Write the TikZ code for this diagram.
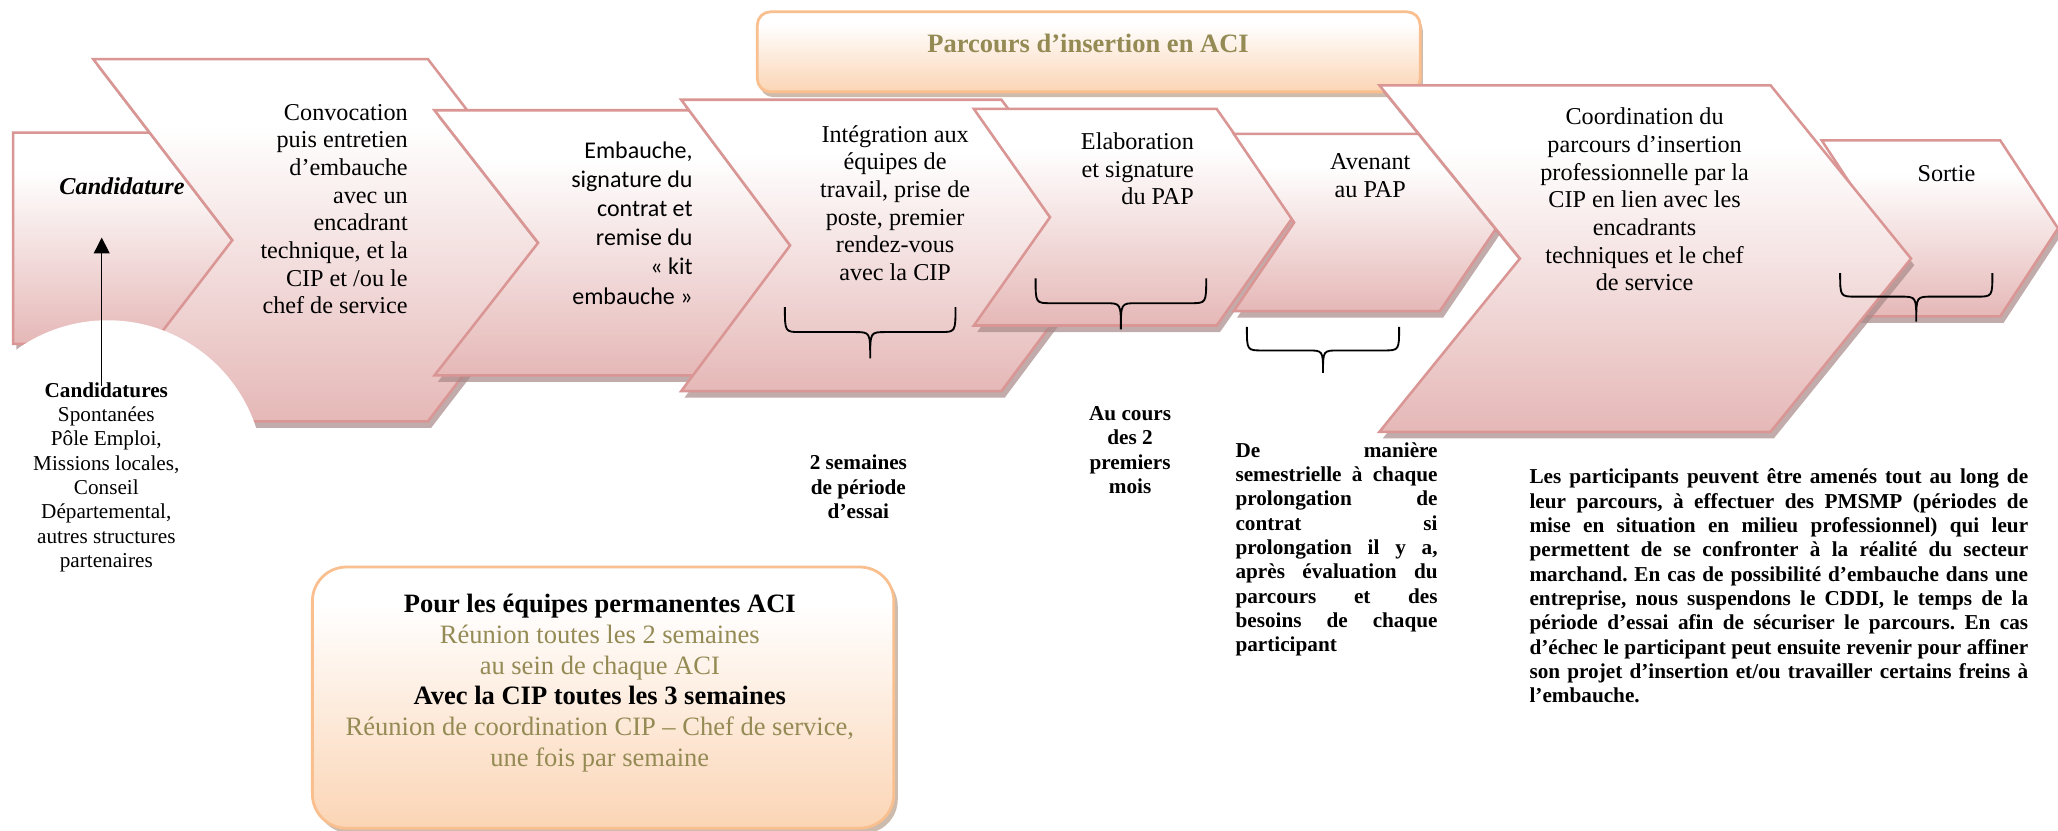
\documentclass[tikz,border=0pt]{standalone}
\usepackage{fontspec}
\setmainfont{Liberation Serif}
\newfontfamily\calibrifont{Carlito}
\usetikzlibrary{arrows.meta}
\frenchspacing

\definecolor{chevbot}{RGB}{229,184,183}
\definecolor{chevline}{RGB}{218,150,148}
\definecolor{chevshadow}{RGB}{168,136,136}
\definecolor{peachbot}{RGB}{251,213,181}
\definecolor{peachline}{RGB}{249,191,143}
\definecolor{peachshadow}{RGB}{185,160,140}
\definecolor{olivetext}{RGB}{148,138,84}

\pgfdeclareverticalshading{chevfade}{100bp}{%
  color(0bp)=(chevbot); color(25bp)=(chevbot); color(66bp)=(white); color(100bp)=(white)}
\pgfdeclareverticalshading{peachfade}{100bp}{%
  color(0bp)=(peachbot); color(25bp)=(peachbot); color(68bp)=(white); color(100bp)=(white)}

% chevron with notched left side: left x, top y, right x, bottom y, point depth
\newcommand\drawchev[5]{%
  \fill[chevshade,shift={(2.5,5)}] (#1,#2) -- (#3,#2) -- ({#3+#5},{(#2+#4)/2}) -- (#3,#4) -- (#1,#4) -- ({#1+#5},{(#2+#4)/2}) -- cycle;
  \path[chevbody] (#1,#2) -- (#3,#2) -- ({#3+#5},{(#2+#4)/2}) -- (#3,#4) -- (#1,#4) -- ({#1+#5},{(#2+#4)/2}) -- cycle;
}

% downward curly brace: left x, right x, top y, bar y, tip y
\newcommand\downbrace[5]{%
  \draw[bracestyle] (#1,#3) .. controls (#1,#4) .. ({#1+12},#4) -- ({(#1+#2)/2-12},#4)
    .. controls ({(#1+#2)/2},#4) .. ({(#1+#2)/2},#5)
    .. controls ({(#1+#2)/2},#4) .. ({(#1+#2)/2+12},#4) -- ({#2-12},#4)
    .. controls (#2,#4) .. (#2,#3);
}

\begin{document}
\begin{tikzpicture}[x=0.02cm,y=-0.02cm,
  chevbody/.style={shade, shading=chevfade, draw=chevline, line width=1.1pt, line join=miter},
  chevshade/.style={fill=chevshadow, opacity=0.7},
  peachbody/.style={shade, shading=peachfade, draw=peachline, line width=1.2pt},
  peachshade/.style={fill=peachshadow, opacity=0.7},
  bracestyle/.style={draw=black, line width=0.8pt},
  shapetext/.style={inner sep=0pt, font=\fontsize{10.5}{12}\selectfont},
  sanstext/.style={inner sep=0pt, font=\calibrifont\fontsize{10.4}{12.6}\selectfont},
  smalltext/.style={inner sep=0pt, font=\fontsize{9.2}{10.55}\selectfont},
  boldtext/.style={inner sep=0pt, font=\fontsize{9.2}{10.55}\selectfont\bfseries},
  boxtext/.style={inner sep=0pt, font=\fontsize{11.5}{13.3}\selectfont},
  titletext/.style={inner sep=0pt, text=olivetext, font=\fontsize{11.5}{13}\selectfont\bfseries}
]
\useasboundingbox (0,0) rectangle (1568,633);
\fill[white] (0,0) rectangle (1568,633);

% title banner
\fill[peachshade,shift={(2,4)},rounded corners=0.2cm] (577,9) rectangle (1082,70);
\path[peachbody,rounded corners=0.2cm] (577,9) rectangle (1082,70);

% process steps
\fill[chevshade,shift={(2.5,5)}] (10,101) -- (150,101) -- (213,181.5) -- (150,262) -- (10,262) -- cycle;
\path[chevbody] (10,101) -- (150,101) -- (213,181.5) -- (150,262) -- (10,262) -- cycle;
\drawchev{71}{45}{326}{321}{106}
\fill[white] (82,363) circle[radius=119];
\drawchev{331}{84}{540}{286}{79}
\drawchev{519}{76}{763}{298}{83}
\drawchev{742}{83}{927}{248}{58}
\drawchev{940}{102}{1097}{237}{46}
\drawchev{1388}{107}{1524}{241}{44}
\drawchev{1051}{65}{1349}{329}{107}

\node[titletext] (title) at (829,33) {Parcours d’insertion en ACI};

% step labels
\node[shapetext, font=\fontsize{10.5}{12}\selectfont\bfseries\itshape] (cand) at (93,142) {Candidature};
\node[shapetext, align=right, anchor=east] (convoc) at (311,159.4)
  {Convocation\\puis entretien\\d’embauche\\avec un\\encadrant\\technique, et la\\CIP et /ou le\\chef de service};
\node[sanstext, align=right, anchor=east] (embauche) at (528,170)
  {Embauche,\\signature du\\contrat et\\remise du\\« kit\\embauche »};
\node[shapetext, align=center] (integ) at (682,154.7)
  {Intégration aux\\équipes de\\travail, prise de\\poste, premier\\rendez-vous\\avec la CIP};
\node[shapetext, align=right, anchor=east] (elab) at (910,128.7)
  {Elaboration\\et signature\\du PAP};
\node[shapetext, align=center] (avenant) at (1044,133.7) {Avenant\\au PAP};
\node[shapetext, align=center] (coord) at (1253,152.1)
  {Coordination du\\parcours d’insertion\\professionnelle par la\\CIP en lien avec les\\encadrants\\techniques et le chef\\de service};
\node[shapetext] (sortie) at (1483,132) {Sortie};

% braces
\downbrace{598}{728}{234}{253}{273}
\downbrace{789}{919}{212}{231}{251}
\downbrace{950}{1066}{249}{267}{284}
\downbrace{1402}{1518}{208}{226}{245}

% application sources
\node[smalltext, align=center] (sources) at (81,363.6)
  {\textbf{Candidatures}\\Spontanées\\Pôle Emploi,\\Missions locales,\\Conseil\\Départemental,\\autres structures\\partenaires};
\coordinate (arrfoot) at (77.5,294);
\coordinate (arrtip) at (77.5,181);
\draw[line width=0.6pt, -{Triangle[length=0.24cm,width=0.24cm]}] (arrfoot) -- (arrtip);

% timing notes
\node[boldtext, align=center] (essai) at (654,371) {2 semaines\\de période\\d’essai};
\node[boldtext, align=center] (mois) at (861,343) {Au cours\\des 2\\premiers\\mois};
\node[boldtext, align=left, anchor=west] (semestre) at (941,418.5)
  {\makebox[3.08cm][s]{De manière}\\
   \makebox[3.08cm][s]{semestrielle à chaque}\\
   \makebox[3.08cm][s]{prolongation de}\\
   \makebox[3.08cm][s]{contrat si}\\
   \makebox[3.08cm][s]{prolongation il y a,}\\
   \makebox[3.08cm][s]{après évaluation du}\\
   \makebox[3.08cm][s]{parcours et des}\\
   \makebox[3.08cm][s]{besoins de chaque}\\
   participant};
\node[boldtext, align=left, anchor=west] (pmsmp) at (1165,446.5)
  {\makebox[7.6cm][s]{Les participants peuvent être amenés tout au long de}\\
   \makebox[7.6cm][s]{leur parcours, à effectuer des PMSMP (périodes de}\\
   \makebox[7.6cm][s]{mise en situation en milieu professionnel) qui leur}\\
   \makebox[7.6cm][s]{permettent de se confronter à la réalité du secteur}\\
   \makebox[7.6cm][s]{marchand. En cas de possibilité d’embauche dans une}\\
   \makebox[7.6cm][s]{entreprise, nous suspendons le CDDI, le temps de la}\\
   \makebox[7.6cm][s]{période d’essai afin de sécuriser le parcours. En cas}\\
   \makebox[7.6cm][s]{d’échec le participant peut ensuite revenir pour affiner}\\
   \makebox[7.6cm][s]{son projet d’insertion et/ou travailler certains freins à}\\
   l’embauche.};

% staff meetings box
\fill[peachshade,shift={(3,4)},rounded corners=0.52cm] (238,432) rectangle (681,631);
\path[peachbody,rounded corners=0.52cm] (238,432) rectangle (681,631);
\node[boxtext, align=center] (perm) at (457,520.5)
  {\textbf{Pour les équipes permanentes ACI}\\
   \textcolor{olivetext}{Réunion toutes les 2 semaines}\\
   \textcolor{olivetext}{au sein de chaque ACI}\\
   \textbf{Avec la CIP toutes les 3 semaines}\\
   \textcolor{olivetext}{Réunion de coordination CIP – Chef de service,}\\
   \textcolor{olivetext}{une fois par semaine}};
\end{tikzpicture}
\end{document}
